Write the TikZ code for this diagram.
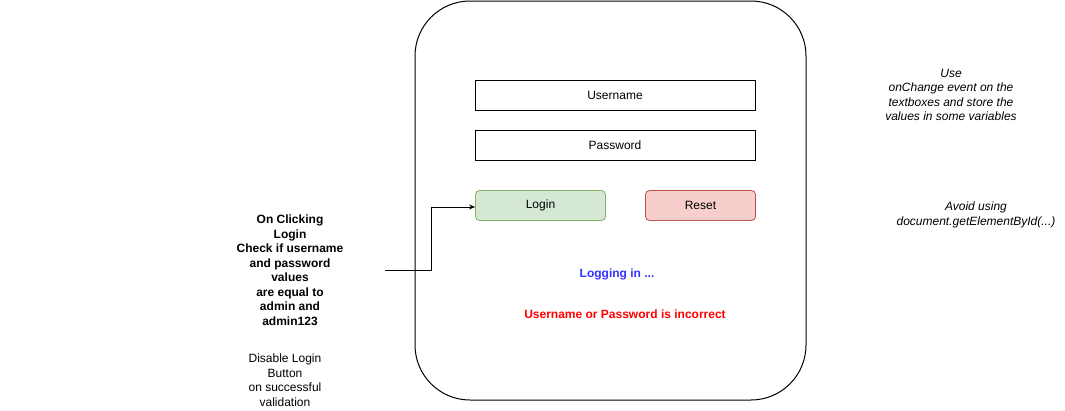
\documentclass[tikz,border=0pt]{standalone}
\usepackage{fontspec}
\setmainfont{Liberation Sans}
\usetikzlibrary{arrows.meta}
\definecolor{gfill}{HTML}{D5E8D4}
\definecolor{gline}{HTML}{82B366}
\definecolor{rfill}{HTML}{F8CECC}
\definecolor{rline}{HTML}{B85450}
\definecolor{blue1}{HTML}{3333FF}
\definecolor{red1}{HTML}{FF0000}
\begin{document}
\begin{tikzpicture}[x=1pt,y=-1pt,
  field/.style={draw=black,line width=1pt,minimum width=280pt,minimum height=30pt,inner sep=0pt,font=\fontsize{12}{14}\selectfont},
  btn/.style={draw,line width=0.8pt,rounded corners=4pt,minimum height=30pt,inner sep=0pt,font=\fontsize{12}{14}\selectfont},
  note/.style={align=center,font=\fontsize{12}{14.5}\selectfont,inner sep=0pt},
  conn/.style={line width=0.9pt,-{Stealth[length=6pt,width=5pt]}}]
\useasboundingbox (0,0) rectangle (1065,410);
\draw[line width=1pt,rounded corners=55pt] (415,1) rectangle (806,400);
\node[field] (user) at (615,95) {Username};
\node[field] (pass) at (615,145) {Password};
\node[btn,fill=gfill,draw=gline,minimum width=130pt] (login) at (540.5,205.5) {Login};
\node[btn,fill=rfill,draw=rline,minimum width=110pt] (reset) at (700.5,205.5) {Reset};
\node[note,text=blue1,font=\fontsize{12}{14}\selectfont\bfseries] (logging) at (617,274) {Logging in ...};
\node[note,text=red1,font=\fontsize{12}{14}\selectfont\bfseries] (err) at (625,314) {Username or Password is incorrect};
\node[note,font=\fontsize{12}{14.5}\selectfont\bfseries] (check) at (290,270) {On Clicking\\Login\\Check if username\\and password\\values\\are equal to\\admin and\\admin123};
\node[note] (disable) at (285,380) {Disable Login\\Button\\on successful\\validation};
\node[note,font=\fontsize{12}{14.5}\selectfont\itshape] (use) at (951,95) {Use\\onChange event on the\\textboxes and store the\\values in some variables};
\node[note,font=\fontsize{12}{14.5}\selectfont\itshape] (avoid) at (976,215) {Avoid using\\document.getElementById(...)};
\coordinate (start) at (385,270);
\draw[conn] (start) -- (431,270) -- (431,207) -- (login.west |- 0,207);
\end{tikzpicture}
\end{document}
